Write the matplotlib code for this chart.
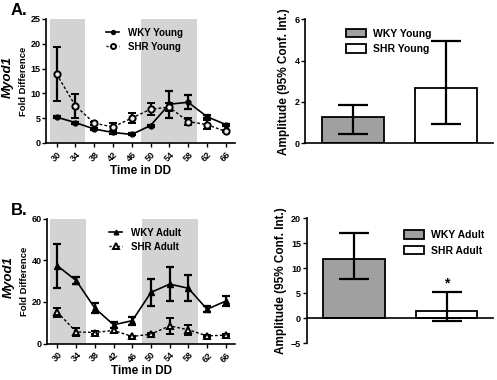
import matplotlib
matplotlib.use("Agg")
import matplotlib.pyplot as plt
from matplotlib.lines import Line2D
import numpy as np

plt.rcParams['font.family'] = ['Liberation Sans', 'DejaVu Sans']
plt.rcParams['font.weight'] = 'bold'

times = [30, 34, 38, 42, 46, 50, 54, 58, 62, 66]
time_labels = ['30', '34', '38', '42', '46', '50', '54', '58', '62', '66']

wky_young = [5.2, 4.1, 2.8, 2.1, 1.7, 3.5, 7.8, 8.2, 5.3, 3.7]
wky_young_err = [0.2, 0.2, 0.3, 0.3, 0.2, 0.2, 2.7, 1.4, 0.3, 0.2]
shr_young = [13.9, 7.5, 4.0, 3.2, 5.0, 6.8, 7.2, 4.3, 3.7, 2.3]
shr_young_err = [5.5, 2.4, 0.3, 0.8, 1.0, 1.2, 0.8, 0.7, 0.9, 0.2]

wky_adult = [37.4, 30.3, 17.0, 9.0, 11.0, 24.6, 28.6, 26.6, 16.5, 20.4]
wky_adult_err = [10.5, 1.8, 2.3, 1.5, 2.0, 6.3, 8.2, 6.3, 1.5, 2.5]
shr_adult = [15.0, 5.6, 5.3, 6.3, 3.4, 4.5, 8.5, 6.6, 3.7, 4.0]
shr_adult_err = [2.0, 2.0, 0.6, 1.0, 0.4, 0.6, 3.8, 2.3, 0.4, 0.4]

shade_ranges = [(28.5, 36), (48, 60)]

amp_groups_young = ['WKY Young', 'SHR Young']
amp_young = [1.25, 2.69]
amp_young_lo = [0.44, 0.94]
amp_young_hi = [1.84, 4.97]

amp_groups_adult = ['WKY Adult', 'SHR Adult']
amp_adult = [11.9, 1.5]
amp_adult_lo = [7.9, -0.5]
amp_adult_hi = [17.0, 5.3]

fig = plt.figure(figsize=(4.97, 3.8), dpi=100)

SHR_LS = (0, (2, 1.5))

def line_panel(rect, wky, wky_err, shr, shr_err, ymax, yticks, marker, labels, letter, letter_y):
    ax = fig.add_axes(rect)
    for a, b in shade_ranges:
        ax.axvspan(a, b, color='#d3d3d3', lw=0, zorder=0)
    ms_w = 3.5 if marker == 'o' else 4.2
    ms_s = 4.5 if marker == 'o' else 5.0
    ax.errorbar(times, wky, yerr=wky_err, color='black', lw=1.2, marker=marker,
                ms=ms_w, mfc='black', mec='black',
                ecolor='black', elinewidth=1.6, capsize=2.6, capthick=1.6, zorder=3)
    ax.errorbar(times, shr, yerr=shr_err, color='black', lw=1.0, ls=SHR_LS,
                marker=marker, ms=ms_s, mfc='#ececec', mec='black', mew=1.4,
                ecolor='black', elinewidth=1.6, capsize=2.6, capthick=1.6, zorder=3)
    ax.set_xlim(27.8, 68)
    ax.set_ylim(0, ymax)
    ax.set_yticks(yticks)
    ax.set_xticks(times)
    ax.set_xticklabels(time_labels, rotation=45, ha='center', fontsize=6.5, fontweight='bold')
    ax.tick_params(axis='y', labelsize=6.5, length=3, width=1, pad=1)
    ax.tick_params(axis='x', length=3, width=1, pad=2)
    for lab in ax.get_yticklabels():
        lab.set_fontweight('bold')
    ax.spines['top'].set_visible(False)
    ax.spines['right'].set_visible(False)
    ax.spines['left'].set_linewidth(1.2)
    ax.spines['bottom'].set_linewidth(1.2)
    ax.set_xlabel('Time in DD', fontsize=8.5, fontweight='bold', labelpad=1)
    ax.set_ylabel('Fold Difference', fontsize=6.8, fontweight='bold', labelpad=2)
    ax.text(-0.205, 0.53, 'Myod1', transform=ax.transAxes, rotation=90, fontsize=9.5,
            fontweight='bold', fontstyle='italic', va='center', ha='center')
    handles = [
        Line2D([], [], color='black', lw=1.2, marker=marker, ms=ms_w * 0.8, mfc='black'),
        Line2D([], [], color='black', lw=1.0, ls=(0, (1.5, 1.5)), marker=marker,
               ms=ms_s * 0.8, mfc='#ececec', mec='black', mew=1.4),
    ]
    ax.legend(handles, labels, loc='upper center', bbox_to_anchor=(0.52, 1.0), frameon=False,
              handlelength=1.3, handletextpad=0.9, labelspacing=0.4,
              prop={'weight': 'bold', 'size': 7})
    fig.text(0.022, letter_y, letter, fontsize=12, fontweight='bold', va='center', ha='left')
    return ax

axA = line_panel([0.093, 0.624, 0.38, 0.326], wky_young, wky_young_err, shr_young,
                 shr_young_err, 25, [0, 5, 10, 15, 20, 25], 'o',
                 ['WKY Young', 'SHR Young'], 'A.', 0.972)
axB = line_panel([0.095, 0.096, 0.378, 0.328], wky_adult, wky_adult_err, shr_adult,
                 shr_adult_err, 60, [0, 20, 40, 60], '^',
                 ['WKY Adult', 'SHR Adult'], 'B.', 0.445)

def bar_panel(rect, groups, vals, lo, hi, ylim, yticks, star=None):
    ax = fig.add_axes(rect)
    x = np.arange(len(vals))
    colors = ['#a0a0a0', 'white']
    for i in range(len(vals)):
        ax.bar(x[i], vals[i], width=0.66, color=colors[i], edgecolor='black', lw=1.3,
               label=groups[i], zorder=2)
    yerr = np.array([[v - l for v, l in zip(vals, lo)], [h - v for v, h in zip(vals, hi)]])
    ax.errorbar(x, vals, yerr=yerr, fmt='none', ecolor='black', elinewidth=1.6,
                capsize=10.5, capthick=1.6, zorder=3)
    ax.set_xlim(-0.51, 1.5)
    ax.set_ylim(*ylim)
    ax.set_yticks(yticks)
    ax.set_xticks([])
    ax.spines['top'].set_visible(False)
    ax.spines['right'].set_visible(False)
    ax.spines['bottom'].set_position(('data', 0))
    ax.spines['left'].set_linewidth(1.2)
    ax.spines['bottom'].set_linewidth(1.2)
    ax.tick_params(axis='y', labelsize=6.5, length=3, width=1, pad=1)
    for lab in ax.get_yticklabels():
        lab.set_fontweight('bold')
    ax.set_ylabel('Amplitude (95% Conf. Int.)', fontsize=8.5, fontweight='bold', labelpad=3)
    if star is not None:
        ax.text(x[1], star, '*', ha='center', va='center', fontsize=10, fontweight='bold')
    return ax

bA = bar_panel([0.614, 0.623, 0.378, 0.326], amp_groups_young, amp_young, amp_young_lo,
               amp_young_hi, (0, 6), [0, 2, 4, 6])
bA.legend(loc='upper left', bbox_to_anchor=(0.165, 1.0), frameon=False,
          handlelength=2.0, handleheight=0.9, labelspacing=0.5, handletextpad=0.6,
          prop={'weight': 'bold', 'size': 7.5})
bB = bar_panel([0.617, 0.097, 0.375, 0.328], amp_groups_adult, amp_adult, amp_adult_lo,
               amp_adult_hi, (-5, 20), [-5, 0, 5, 10, 15, 20], star=7.0)
bB.legend(loc='upper left', bbox_to_anchor=(0.47, 0.98), frameon=False,
          handlelength=2.0, handleheight=0.9, labelspacing=0.5, handletextpad=0.6,
          prop={'weight': 'bold', 'size': 7.5})

fig.savefig('out.png', dpi=100)
